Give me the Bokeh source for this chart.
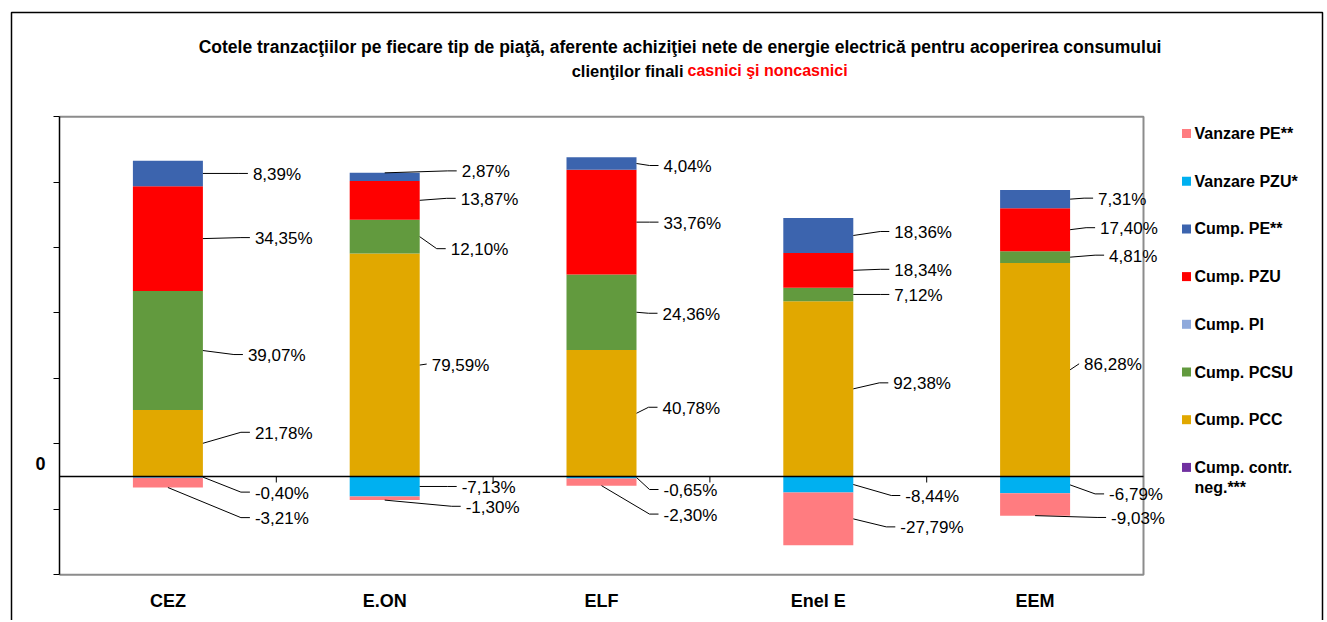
from bokeh.plotting import figure
from bokeh.models import ColumnDataSource, FixedTicker
from bokeh.core.properties import value
from bokeh.embed import file_html
from bokeh.resources import INLINE

# ---------------- data ----------------
companies = ["CEZ", "E.ON", "ELF", "Enel E", "EEM"]
cump_pcc = [21.78, 79.59, 40.78, 92.38, 86.28]
cump_pcsu = [39.07, 12.10, 24.36, 7.12, 4.81]
cump_pi = [0.0, 0.0, 0.0, 0.0, 0.0]
cump_pzu = [34.35, 13.87, 33.76, 18.34, 17.40]
cump_pe = [8.39, 2.87, 4.04, 18.36, 7.31]
cump_contr_neg = [0.0, 0.0, 0.0, 0.0, 0.0]
vanzare_pzu = [-0.40, -7.13, -0.65, -8.44, -6.79]
vanzare_pe = [-3.21, -1.30, -2.30, -27.79, -9.03]
# relative net volume of each supplier (bar scale, arbitrary units)
net_volume = [466, 428, 474, 290, 378]

title_line1 = ("Cotele tranzacţiilor pe fiecare tip de piaţă, aferente achiziţiei nete "
               "de energie electrică  pentru acoperirea consumului")
title_line2_black = "clienţilor finali"
title_line2_red = "casnici şi noncasnici"

# ---------------- layout of the data labels (screen px) ----------------
label_series = ["Cump. PE**", "Cump. PZU", "Cump. PCSU", "Cump. PCC",
                "Vanzare  PZU*", "Vanzare  PE**"]
label_dx = [[50, 52, 45, 52, 52, 52],
            [42, 41, 31, 12, 42, 46],
            [27, 27, 26, 26, 27, 27],
            [41, 41, 41, 40, 52, 47],
            [28, 30, 39, 14, 39, 41]]
label_dy = [[1, 0, 5, -10, 16, 36],
            [-5, -1, 13, 0, 1, 9],
            [3, 1, 2, -5, 13, 33],
            [-3, 0, 1, -5, 12, 9],
            [0, -1, -1, -5, 10, 14]]
label_anchor = [["r", "r", "r", "r", "r", "b"],
                ["t", "r", "r", "r", "r", "b"],
                ["r", "r", "r", "r", "r", "b"],
                ["r", "r", "r", "r", "r", "r"],
                ["r", "r", "r", "r", "r", "b"]]

FONT = value("Liberation Sans")
W, H = 1325, 620
CAT_PX = 216.8           # px per category
UY = 700.0 / 458.0       # value units per px
PA_LEFT, ZERO_PX = 59, 476


def X(px):
    return -0.5 + (px - PA_LEFT) / CAT_PX


def Y(py):
    return (ZERO_PX - py) * UY


def sx(px):
    return px / CAT_PX


def sy(px):
    return px * UY


PA_X = (-0.5, 4.5)
PA_Y = (-150.0, 550.0)
BAR_W = 70 / CAT_PX

p = figure(frame_width=W, frame_height=H, min_border=0,
           x_range=(X(0), X(W)), y_range=(Y(H), Y(0)),
           y_axis_location="right",
           output_backend="svg", toolbar_location=None, title=None)
p.background_fill_color = "white"
p.border_fill_color = "white"
p.xgrid.visible = False
p.ygrid.visible = False
p.outline_line_color = None

# value axis (left edge of the plot area)
yt = [-150, -50, 50, 150, 250, 350, 450, 550]
p.yaxis.fixed_location = PA_X[0]
p.yaxis.bounds = PA_Y
p.yaxis.ticker = FixedTicker(ticks=yt)
p.yaxis.major_label_overrides = {t: "" for t in yt}
p.yaxis.major_label_standoff = 0
p.yaxis.major_tick_out = 0
p.yaxis.major_tick_in = 6
p.yaxis.minor_tick_line_color = None
p.yaxis.axis_line_color = "black"
p.yaxis.axis_line_width = 1.5
p.yaxis.major_tick_line_color = "black"

# category axis (labels under the plot area)
xs = list(range(len(companies)))
p.xaxis.fixed_location = Y(611)
p.xaxis.ticker = FixedTicker(ticks=xs)
p.xaxis.major_label_overrides = {i: c for i, c in enumerate(companies)}
p.xaxis.axis_line_color = None
p.xaxis.major_tick_line_color = None
p.xaxis.minor_tick_line_color = None
p.xaxis.major_tick_out = 0
p.xaxis.major_tick_in = 0
p.xaxis.major_label_standoff = -21
p.xaxis.major_label_text_font = "Liberation Sans"
p.xaxis.major_label_text_font_size = "18px"
p.xaxis.major_label_text_font_style = "bold"
p.xaxis.major_label_text_color = "black"

# outer chart border and plot-area border
p.multi_line(xs=[[X(11), X(11), X(1322), X(1322)]],
             ys=[[Y(H + 5), Y(12), Y(12), Y(H + 5)]],
             line_color="black", line_width=1.5)
p.multi_line(xs=[[PA_X[0], PA_X[1], PA_X[1], PA_X[0]]],
             ys=[[PA_Y[1], PA_Y[1], PA_Y[0], PA_Y[0]]],
             line_color="#8c8c8c", line_width=2)

# stacked bars
pos_series = [("Cump. PCC", cump_pcc, "#E1A800"),
              ("Cump. PCSU", cump_pcsu, "#629A3E"),
              ("Cump. PI", cump_pi, "#8FAADC"),
              ("Cump. PZU", cump_pzu, "#FF0000"),
              ("Cump. PE**", cump_pe, "#3C64AE"),
              ("Cump. contr. neg.***", cump_contr_neg, "#7030A0")]
neg_series = [("Vanzare  PZU*", vanzare_pzu, "#00B0F0"),
              ("Vanzare  PE**", vanzare_pe, "#FF7C80")]
colors = {n: c for n, _, c in pos_series + neg_series}

segments = {}
for group in (pos_series, neg_series):
    base = [0.0] * len(companies)
    for name, vals, color in group:
        h = [v * vol / 100.0 for v, vol in zip(vals, net_volume)]
        top = [b + hh for b, hh in zip(base, h)]
        src = ColumnDataSource(dict(x=xs, bottom=base, top=top))
        p.vbar(x="x", bottom="bottom", top="top", width=BAR_W, source=src,
               fill_color=color, line_color=None)
        segments[name] = (list(base), list(top), vals)
        base = top

# zero line (category axis line) and category separators
p.segment(x0=[PA_X[0]], y0=[0], x1=[PA_X[1]], y1=[0], line_color="black", line_width=1.5)
sep_x = [i + 0.5 for i in range(len(companies) - 1)]
p.segment(x0=sep_x, y0=[0] * len(sep_x), x1=sep_x, y1=[-sy(6)] * len(sep_x),
          line_color="black", line_width=1)

# data labels with leader lines
lx, ly, lt = [], [], []
mx, my = [], []
for i in range(len(companies)):
    for k, name in enumerate(label_series):
        b, t, vals = segments[name]
        lo, hi = min(b[i], t[i]), max(b[i], t[i])
        mid = (lo + hi) / 2
        right = i + BAR_W / 2
        a = label_anchor[i][k]
        if a == "r":
            ax, ay = right, mid
        elif a == "b":
            ax, ay = i, lo
        else:
            ax, ay = i, hi
        tx = right + sx(label_dx[i][k])
        ty = mid - sy(label_dy[i][k])
        lx.append(tx)
        ly.append(ty)
        lt.append(("%.2f%%" % vals[i]).replace(".", ","))
        ex, ey = tx - sx(5), ty + sy(1)
        elbow = tx - sx(14)
        if elbow > ax + sx(3):
            mx.append([ax, elbow, ex])
            my.append([ay, ey, ey])
        else:
            mx.append([ax, ex])
            my.append([ay, ey])

p.multi_line(xs=mx, ys=my, line_color="black", line_width=1)
p.text(x=lx, y=ly, text=lt, text_font=FONT, text_font_size="17px",
       text_color="black", text_align="left", text_baseline="middle")

# "0" label on the value axis
p.text(x=[X(40)], y=[Y(463)], text=["0"], text_font=FONT, text_font_size="18px",
       text_font_style="bold", text_align="center", text_baseline="middle")

# title
p.text(x=[X(682)], y=[Y(46)], text=[title_line1], text_font=FONT,
       text_font_size="17.5px", text_font_style="bold", text_color="black",
       text_align="center", text_baseline="middle")
p.text(x=[X(683)], y=[Y(70)], text=[title_line2_black], text_font=FONT,
       text_font_size="16.5px", text_font_style="bold", text_color="black",
       text_align="right", text_baseline="middle")
p.text(x=[X(687)], y=[Y(70)], text=[title_line2_red], text_font=FONT,
       text_font_size="16px", text_font_style="bold", text_color="#FF0000",
       text_align="left", text_baseline="middle")

# legend (drawn by hand at the right of the plot area)
legend_order = ["Vanzare  PE**", "Vanzare  PZU*", "Cump. PE**", "Cump. PZU",
                "Cump. PI", "Cump. PCSU", "Cump. PCC", "Cump. contr. neg.***"]
legend_lines = {"Cump. contr. neg.***": ["Cump. contr.", "neg.***"]}
LEG_TOP, LEG_PITCH, LEG_X = 133, 47.7, 1186
gx, gy, gc, tx_, ty_, tt_ = [], [], [], [], [], []
for k, name in enumerate(legend_order):
    yc = LEG_TOP + k * LEG_PITCH
    gx.append(X(LEG_X))
    gy.append(Y(yc))
    gc.append(colors[name])
    for j, line in enumerate(legend_lines.get(name, [name])):
        tx_.append(X(LEG_X + 8))
        ty_.append(Y(yc + j * 20))
        tt_.append(line)
p.scatter(x=gx, y=gy, marker="square", size=9, fill_color=gc, line_color=None)
p.text(x=tx_, y=ty_, text=tt_, text_font=FONT, text_font_size="16px",
       text_font_style="bold", text_color="black", text_align="left",
       text_baseline="middle")

open("out.html", "w").write(file_html(p, INLINE))
